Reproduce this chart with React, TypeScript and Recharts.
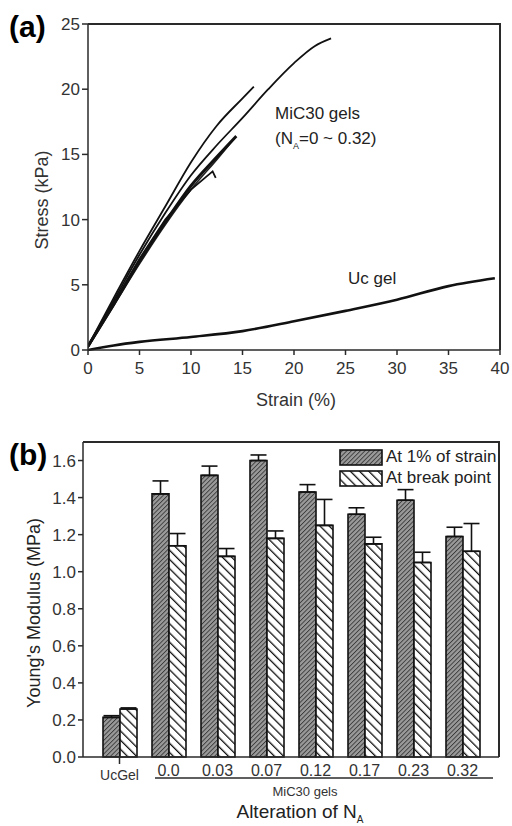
import React from 'react';
import { LineChart, Line, XAxis, YAxis, BarChart, Bar, ErrorBar, Legend, ReferenceLine } from 'recharts';

// (a) stress-strain curves
const strainA = [0, 2.5, 5, 7.5, 10, 12.5, 15, 16.1];
const stressA = [0.3, 4.0, 7.6, 11.0, 14.4, 17.2, 19.3, 20.2];
const strainB = [0, 2.5, 5, 7.5, 10, 12.5, 15, 17.5, 20, 22, 23.6];
const stressB = [0.3, 3.8, 7.3, 10.5, 13.4, 15.7, 17.8, 20.0, 22.0, 23.3, 23.9];
const strainC = [0, 2.5, 5, 7.5, 10, 12.5, 14.4];
const stressC = [0.3, 3.5, 6.8, 9.8, 12.6, 14.8, 16.4];
const strainD = [0, 2.5, 5, 7.5, 10, 12.1, 12.4];
const stressD = [0.2, 3.6, 7.0, 10.0, 12.3, 13.7, 13.2];
const strainE = [0, 2.5, 5, 7.5, 10, 12.5, 14.2];
const stressE = [0.2, 3.4, 6.6, 9.6, 12.3, 14.6, 16.2];
const strainUc = [0, 2.5, 5, 10, 15, 20, 25, 30, 35, 39.5];
const stressUc = [0, 0.35, 0.62, 1.0, 1.45, 2.2, 3.0, 3.85, 4.9, 5.5];
const strainTicks = [0, 5, 10, 15, 20, 25, 30, 35, 40];
const stressTicks = [0, 5, 10, 15, 20, 25];

// (b) Young's modulus
const groups = ['UcGel', '0.0', '0.03', '0.07', '0.12', '0.17', '0.23', '0.32'];
const modulusInitial = [0.214, 1.42, 1.52, 1.6, 1.43, 1.31, 1.386, 1.19];
const errInitial = [0.009, 0.07, 0.05, 0.03, 0.04, 0.035, 0.057, 0.05];
const modulusBreak = [0.259, 1.14, 1.083, 1.18, 1.25, 1.15, 1.05, 1.11];
const errBreak = [0.006, 0.066, 0.042, 0.04, 0.14, 0.036, 0.055, 0.15];
const modulusTicks = [0, 0.2, 0.4, 0.6, 0.8, 1.0, 1.2, 1.4, 1.6];

const FONT = '"Liberation Sans", Arial, sans-serif';
const INK = '#2a2a2a';

const pts = (xs: number[], ys: number[]) => xs.map((x, i) => ({ x, y: ys[i] }));

const barData = groups.map((g, i) => ({
  group: g,
  initial: modulusInitial[i],
  initialErr: [0, errInitial[i]],
  brk: modulusBreak[i],
  brkErr: [0, errBreak[i]],
}));

const tickStyle = { fontSize: 17, fill: '#333', fontFamily: FONT };

const GroupTick = (props: any) => {
  const { x, y, payload } = props;
  const uc = payload.value === 'UcGel';
  return (
    <g>
      {uc && <line x1={x} y1={y - 2} x2={x} y2={y + 5} stroke={INK} strokeWidth={1.5} />}
      <text
        x={x}
        y={uc ? y + 11 : y + 6}
        dy="0.71em"
        textAnchor="middle"
        fontSize={uc ? 14 : 16}
        fontFamily={FONT}
        fill="#333"
      >
        {payload.value}
      </text>
    </g>
  );
};

const LegendBox = () => (
  <div style={{ fontFamily: FONT, fontSize: 17, color: '#222', lineHeight: '20px' }}>
    {[
      { fill: 'url(#hatchDark)', label: 'At 1% of strain' },
      { fill: 'url(#hatchLight)', label: 'At break point' },
    ].map((it) => (
      <div key={it.label} style={{ display: 'flex', alignItems: 'center', marginBottom: 1 }}>
        <svg width={44} height={17} style={{ marginRight: 3 }}>
          <rect x={1} y={1} width={42} height={15} fill={it.fill} stroke="#111" strokeWidth={1.6} />
        </svg>
        <span>{it.label}</span>
      </div>
    ))}
  </div>
);

export default function App() {
  return (
    <div style={{ position: 'absolute', left: 0, top: 0, width: 512, height: 826, background: '#fff' }}>
      <div style={{ position: 'absolute', left: 9, top: 10, fontFamily: FONT, fontWeight: 'bold', fontSize: 30 }}>(a)</div>
      <div style={{ position: 'absolute', left: 9, top: 438, fontFamily: FONT, fontWeight: 'bold', fontSize: 30 }}>(b)</div>

      <div style={{ position: 'absolute', left: 0, top: 0 }}>
        <LineChart width={512} height={420} margin={{ top: 24, right: 12, left: 0, bottom: 0 }}>
          <XAxis
            type="number"
            dataKey="x"
            domain={[0, 40]}
            ticks={strainTicks}
            allowDataOverflow
            height={70}
            stroke={INK}
            strokeWidth={1.5}
            tickSize={5}
            tickMargin={7}
            tick={tickStyle}
            label={() => (
              <text x={296} y={406} textAnchor="middle" fontSize={18} fontFamily={FONT} fill="#333">
                Strain (%)
              </text>
            )}
          />
          <YAxis
            type="number"
            domain={[0, 25]}
            ticks={stressTicks}
            width={88}
            stroke={INK}
            strokeWidth={1.5}
            tickSize={6}
            tick={tickStyle}
            label={() => (
              <text x={48} y={200} transform="rotate(-90 48 200)" textAnchor="middle" fontSize={18} fontFamily={FONT} fill="#333">
                Stress (kPa)
              </text>
            )}
          />
          {/* plot box: top and right edges */}
          <ReferenceLine y={25} stroke={INK} strokeWidth={1.5} ifOverflow="visible" />
          <ReferenceLine x={40} stroke={INK} strokeWidth={1.5} ifOverflow="visible" />
          <Line data={pts(strainA, stressA)} dataKey="y" type="monotone" stroke="#111" strokeWidth={1.8} dot={false} isAnimationActive={false} />
          <Line data={pts(strainB, stressB)} dataKey="y" type="monotone" stroke="#111" strokeWidth={1.8} dot={false} isAnimationActive={false} />
          <Line data={pts(strainE, stressE)} dataKey="y" type="monotone" stroke="#222" strokeWidth={1.6} dot={false} isAnimationActive={false} />
          <Line data={pts(strainD, stressD)} dataKey="y" type="linear" stroke="#111" strokeWidth={1.8} dot={false} isAnimationActive={false} />
          <Line data={pts(strainC, stressC)} dataKey="y" type="monotone" stroke="#111" strokeWidth={3} dot={false} isAnimationActive={false} />
          <Line data={pts(strainUc, stressUc)} dataKey="y" type="monotone" stroke="#111" strokeWidth={2.6} dot={false} isAnimationActive={false} />
          <text x={275} y={119} fontSize={17} fontFamily={FONT} fill="#222">MiC30 gels</text>
          <text x={275} y={144} fontSize={17} fontFamily={FONT} fill="#222">
            (N<tspan fontSize={9} dy={5}>A</tspan>
            <tspan dy={-5}>=0 ~ 0.32)</tspan>
          </text>
          <text x={348} y={284} fontSize={17} fontFamily={FONT} fill="#222">Uc gel</text>
        </LineChart>
      </div>

      <div style={{ position: 'absolute', left: 0, top: 400 }}>
        <BarChart
          width={512}
          height={426}
          data={barData}
          margin={{ top: 42, right: 13, left: 0, bottom: 0 }}
          barGap={0}
          barSize={17}
        >
          <defs>
            <pattern id="hatchDark" width={3.2} height={3.2} patternUnits="userSpaceOnUse" patternTransform="rotate(45)">
              <rect width={3.2} height={3.2} fill="#9a9a9a" />
              <line x1={0} y1={0} x2={0} y2={3.2} stroke="#3a3a3a" strokeWidth={1.8} />
            </pattern>
            <pattern id="hatchLight" width={6.5} height={6.5} patternUnits="userSpaceOnUse" patternTransform="rotate(-45)">
              <rect width={6.5} height={6.5} fill="#fff" />
              <line x1={0} y1={0} x2={0} y2={6.5} stroke="#111" strokeWidth={2.6} />
            </pattern>
          </defs>
          <XAxis
            dataKey="group"
            height={69}
            padding={{ left: 12, right: 12 }}
            stroke={INK}
            strokeWidth={1.5}
            tickLine={false}
            tickSize={0}
            tick={<GroupTick />}
            interval={0}
            label={() => (
              <text x={300} y={418} textAnchor="middle" fontSize={19} fontFamily={FONT} fill="#222">
                Alteration of N<tspan fontSize={10} dy={5}>A</tspan>
              </text>
            )}
          />
          <YAxis
            type="number"
            domain={[0, 1.7]}
            ticks={modulusTicks}
            tickFormatter={(v: number) => v.toFixed(1)}
            width={83}
            stroke={INK}
            strokeWidth={1.5}
            tickSize={5}
            tick={tickStyle}
            label={() => (
              <text x={40} y={213} transform="rotate(-90 40 213)" textAnchor="middle" fontSize={18} fontFamily={FONT} fill="#222">
                Young's Modulus (MPa)
              </text>
            )}
          />
          <Legend
            verticalAlign="middle"
            content={<LegendBox />}
            wrapperStyle={{ position: 'absolute', top: 47, left: 339, width: 'auto', right: 'auto', bottom: 'auto' }}
          />
          <Bar dataKey="initial" fill="url(#hatchDark)" stroke="#111" strokeWidth={1.6} isAnimationActive={false}>
            <ErrorBar dataKey="initialErr" width={8} stroke="#111" strokeWidth={1.6} direction="y" />
          </Bar>
          <Bar dataKey="brk" fill="url(#hatchLight)" stroke="#111" strokeWidth={1.6} isAnimationActive={false}>
            <ErrorBar dataKey="brkErr" width={8} stroke="#111" strokeWidth={1.6} direction="y" />
          </Bar>
          <line x1={155} y1={378} x2={493} y2={378} stroke={INK} strokeWidth={1.3} />
          <text x={305} y={396} textAnchor="middle" fontSize={13} fontFamily={FONT} fill="#333">MiC30 gels</text>
        </BarChart>
      </div>
      {/* top and right edges of both plot boxes */}
      <svg width={512} height={826} style={{ position: 'absolute', left: 0, top: 0, pointerEvents: 'none' }}>
        <polyline points="88,24 500,24 500,350" fill="none" stroke={INK} strokeWidth={2} />
        <polyline points="83,442 499,442 499,757" fill="none" stroke={INK} strokeWidth={2} />
      </svg>
    </div>
  );
}
